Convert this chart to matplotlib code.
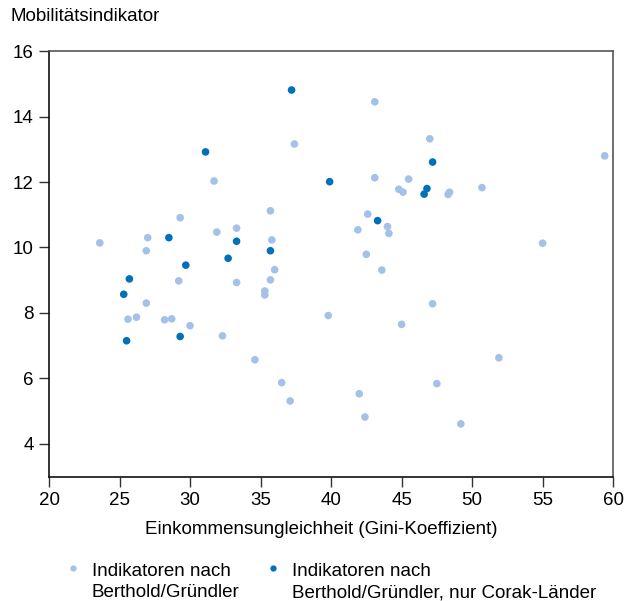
"""Mobilität vs. Einkommensungleichheit – Streudiagramm mit zwei Indikatorgruppen."""
import matplotlib
matplotlib.use("Agg")
import matplotlib.pyplot as plt
from matplotlib.lines import Line2D

plt.rcParams["font.family"] = ["Liberation Sans", "DejaVu Sans"]

# Indikatoren nach Berthold/Gründler (alle Länder)
gini_all = [31.7, 29.3, 31.9, 33.3, 23.6, 27.0, 26.9, 43.1, 37.4, 47.0, 43.1, 45.5,
            44.8, 45.1, 35.7, 42.6, 44.0, 44.1, 41.9, 35.8, 42.5, 48.3, 48.4, 50.7,
            59.4, 55.0, 29.2, 33.3, 26.9, 25.6, 26.2, 28.2, 28.7, 30.0, 32.3, 36.0,
            43.6, 35.7, 35.3, 35.3, 39.8, 45.0, 34.6, 36.5, 37.1, 42.0, 42.4, 47.2,
            51.9, 47.5, 49.2]
mob_all = [12.03, 10.91, 10.47, 10.59, 10.14, 10.30, 9.90, 14.45, 13.16, 13.32, 12.13, 12.09,
           11.78, 11.69, 11.12, 11.02, 10.64, 10.43, 10.54, 10.23, 9.79, 11.62, 11.69, 11.83,
           12.80, 10.13, 8.98, 8.93, 8.30, 7.81, 7.87, 7.79, 7.82, 7.61, 7.30, 9.32,
           9.31, 9.01, 8.67, 8.55, 7.92, 7.65, 6.57, 5.87, 5.31, 5.53, 4.82, 8.28,
           6.63, 5.84, 4.61]

# nur Corak-Länder
gini_corak = [31.1, 28.5, 33.3, 32.7, 37.2, 47.2, 39.9, 46.8, 46.6, 43.3, 35.7, 29.7,
              25.7, 25.3, 25.5, 29.3]
mob_corak = [12.92, 10.30, 10.19, 9.67, 14.81, 12.61, 12.01, 11.80, 11.63, 10.82, 9.90, 9.46,
             9.04, 8.57, 7.15, 7.28]

labels = ["Indikatoren nach\nBerthold/Gründler",
          "Indikatoren nach\nBerthold/Gründler, nur Corak-Länder"]

LIGHT = "#a3c1e9"
DARK = "#0070b8"
FS = 13.5

fig = plt.figure(figsize=(6.25, 6.01), dpi=100)
ax = fig.add_axes([0.0784, 0.207, 0.9026, 0.708])

ax.scatter(gini_all, mob_all, s=30, c=LIGHT, edgecolors="none", zorder=2)
ax.scatter(gini_corak, mob_corak, s=30, c=DARK, edgecolors="none", zorder=3)

ax.set_xlim(20, 60); ax.set_ylim(3, 16)
ax.set_xticks(range(20, 61, 5)); ax.set_yticks(range(4, 17, 2))
ax.tick_params(labelsize=FS, length=7, width=1, color="#333333", pad=4)
for s in ax.spines.values():
    s.set_color("#555555"); s.set_linewidth(1.2)
ax.spines["left"].set_color("#111111"); ax.spines["bottom"].set_color("#111111")

ax.set_xlabel("Einkommensungleichheit (Gini-Koeffizient)", fontsize=FS, labelpad=9, x=0.483)
fig.text(0.016, 0.972, "Mobilitätsindikator", fontsize=FS, ha="left", va="center")

handles = [Line2D([], [], ls="", marker="o", ms=4.5, mec="none", mfc=c) for c in (LIGHT, DARK)]
leg = fig.legend(handles, labels, loc="upper left", bbox_to_anchor=(0.108, 0.064), ncol=2,
                 frameon=False, fontsize=FS, handlelength=0.6, handletextpad=0.7,
                 columnspacing=1.5, borderaxespad=0, borderpad=0)
for t in leg.get_texts():
    t.set_linespacing(1.35)
# marker on the first text line, as in the original
for h in leg.legend_handles:
    h.set_ydata([y + 0.72 * FS for y in h.get_ydata()])

fig.savefig("out.png", dpi=100)
